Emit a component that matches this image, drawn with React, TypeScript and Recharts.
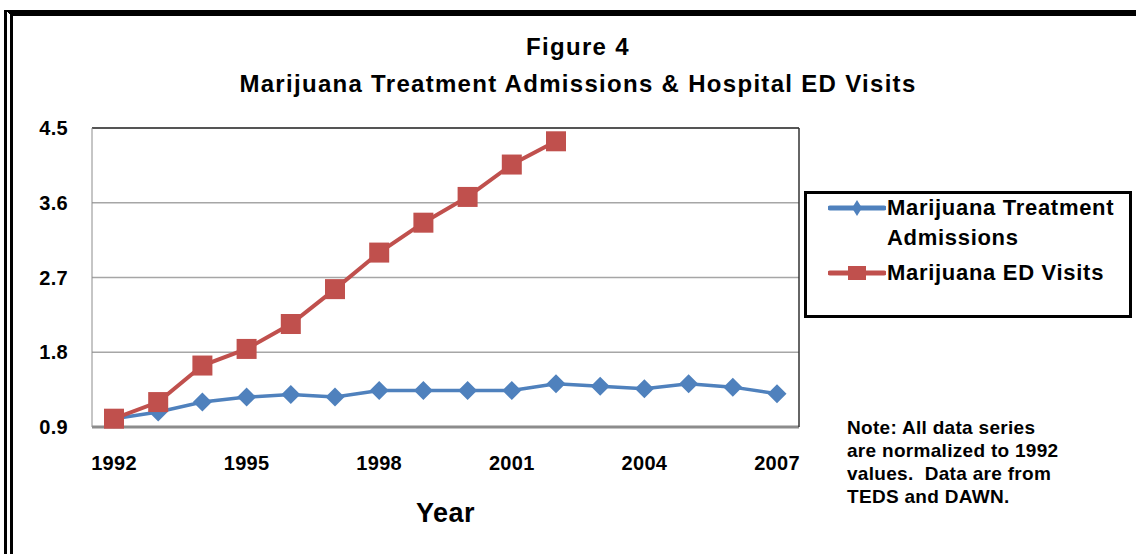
import { LineChart, Line, XAxis, YAxis, CartesianGrid } from 'recharts';

// Index values, normalized so that 1992 = 1.0
const years = ['1992', '1993', '1994', '1995', '1996', '1997', '1998', '1999', '2000', '2001', '2002', '2003', '2004', '2005', '2006', '2007'];
const treatmentAdmissions = [1.0, 1.08, 1.2, 1.26, 1.29, 1.26, 1.34, 1.34, 1.34, 1.34, 1.42, 1.39, 1.36, 1.42, 1.38, 1.3];
const edVisits = [1.0, 1.2, 1.64, 1.84, 2.14, 2.56, 3.0, 3.36, 3.67, 4.06, 4.34, null, null, null, null, null];
const yTicks = [0.9, 1.8, 2.7, 3.6, 4.5];

const BLUE = '#4F81BD';
const RED = '#C0504D';
const FONT = '"Liberation Sans", Arial, sans-serif';

const data = years.map((year, i) => ({
  year,
  treatment: treatmentAdmissions[i],
  ed: edVisits[i],
}));

const DiamondDot = (props: any) => {
  const { cx, cy, index } = props;
  if (cx == null || cy == null) return <g key={`d-${index}`} />;
  const r = 9.5;
  return (
    <polygon
      key={`d-${index}`}
      points={`${cx},${cy - r} ${cx + r},${cy} ${cx},${cy + r} ${cx - r},${cy}`}
      fill={BLUE}
    />
  );
};

const SquareDot = (props: any) => {
  const { cx, cy, index, value } = props;
  if (cx == null || cy == null || value == null) return <g key={`s-${index}`} />;
  return <rect key={`s-${index}`} x={cx - 10} y={cy - 10} width={20} height={20} fill={RED} />;
};

const tickStyle = { fontSize: 20, fontWeight: 700, fill: '#000', fontFamily: FONT, letterSpacing: 0.3 };

export default function App() {
  return (
    <div style={{ position: 'absolute', left: 0, top: 0, width: 1136, height: 554, background: '#fff', fontFamily: FONT, overflow: 'hidden' }}>
      {/* outer frame: heavy top rule, double rule on the left */}
      <div
        style={{
          position: 'absolute',
          left: 4,
          top: 10,
          width: 1132,
          height: 544,
          borderTop: '6px solid #000',
          borderLeft: '9px double #000',
          boxSizing: 'border-box',
        }}
      />

      {/* title */}
      <div style={{ position: 'absolute', left: 78, top: 32, width: 1000, textAlign: 'center', fontWeight: 700, color: '#000', fontSize: 24, letterSpacing: 1.3 }}>
        <div style={{ lineHeight: '30px' }}>Figure 4</div>
        <div style={{ lineHeight: '30px', marginTop: 7 }}>Marijuana Treatment Admissions &amp; Hospital ED Visits</div>
      </div>

      <div style={{ position: 'absolute', left: 0, top: 0 }}>
        <LineChart width={1136} height={554} data={data} margin={{ top: 127, right: 336, bottom: 97, left: 32 }}>
          <CartesianGrid vertical={false} stroke="#a6a6a6" strokeWidth={1.5} />
          <XAxis
            dataKey="year"
            interval={2}
            padding={{ left: 22, right: 22 }}
            tick={tickStyle}
            tickLine={false}
            tickSize={6}
            tickMargin={23}
            height={30}
            axisLine={{ stroke: '#8c8c8c', strokeWidth: 3 }}
            label={{ value: 'Year', position: 'bottom', offset: 46, fontSize: 27, fontWeight: 700, fill: '#000', fontFamily: FONT, letterSpacing: 0.5 }}
          />
          <XAxis
            xAxisId="top"
            orientation="top"
            dataKey="year"
            padding={{ left: 22, right: 22 }}
            tick={false}
            tickLine={false}
            height={1}
            axisLine={{ stroke: '#333', strokeWidth: 1.5 }}
          />
          <YAxis
            domain={[0.9, 4.5]}
            ticks={yTicks}
            tickFormatter={(v: number) => v.toFixed(1)}
            tick={tickStyle}
            tickLine={false}
            tickSize={6}
            tickMargin={18}
            width={60}
            axisLine={{ stroke: '#8c8c8c', strokeWidth: 1 }}
          />
          <YAxis
            yAxisId="right"
            orientation="right"
            domain={[0.9, 4.5]}
            tick={false}
            tickLine={false}
            width={1}
            axisLine={{ stroke: '#333', strokeWidth: 1.5 }}
          />
          <Line
            dataKey="treatment"
            name="Marijuana Treatment Admissions"
            stroke={BLUE}
            strokeWidth={3.5}
            dot={DiamondDot}
            activeDot={false}
            isAnimationActive={false}
          />
          <Line
            dataKey="ed"
            name="Marijuana ED Visits"
            stroke={RED}
            strokeWidth={4}
            dot={SquareDot}
            activeDot={false}
            isAnimationActive={false}
          />
        </LineChart>
      </div>

      {/* legend */}
      <div
        style={{
          position: 'absolute',
          left: 804,
          top: 191,
          width: 328,
          height: 127,
          border: '3px solid #000',
          boxSizing: 'border-box',
          fontWeight: 700,
          fontSize: 22,
          letterSpacing: 0.7,
          color: '#000',
        }}
      >
        <div style={{ position: 'absolute', left: 21, top: -1, display: 'flex' }}>
          <svg width={58} height={30} style={{ flex: 'none' }}>
            <line x1={2} y1={15} x2={56} y2={15} stroke={BLUE} strokeWidth={5} strokeLinecap="round" />
            <polygon points="29,7 34,15 29,23 24,15" fill={BLUE} />
          </svg>
          <div style={{ lineHeight: '30px', marginLeft: 1 }}>
            Marijuana Treatment
            <br />
            Admissions
          </div>
        </div>
        <div style={{ position: 'absolute', left: 21, top: 64, display: 'flex' }}>
          <svg width={58} height={30} style={{ flex: 'none' }}>
            <line x1={2} y1={15} x2={56} y2={15} stroke={RED} strokeWidth={5} strokeLinecap="round" />
            <rect x={20} y={8} width={18} height={14} fill={RED} />
          </svg>
          <div style={{ lineHeight: '30px', marginLeft: 1 }}>Marijuana ED Visits</div>
        </div>
      </div>

      {/* note */}
      <div style={{ position: 'absolute', left: 847, top: 416, fontSize: 19, lineHeight: '23px', fontWeight: 700, color: '#000', letterSpacing: 0.3 }}>
        Note: All data series
        <br />
        are normalized to 1992
        <br />
        values.&nbsp; Data are from
        <br />
        TEDS and DAWN.
      </div>
    </div>
  );
}
